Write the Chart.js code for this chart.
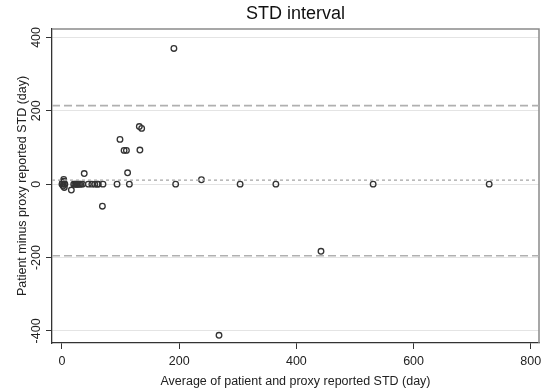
<!DOCTYPE html>
<html>
<head>
<meta charset="utf-8">
<script src="https://cdn.jsdelivr.net/npm/chart.js@4/dist/chart.umd.min.js"></script>
<style>
html,body{margin:0;padding:0;background:#fff;}
#wrap{width:548px;height:390px;}
</style>
</head>
<body>
<div id="wrap"><canvas id="c" width="548" height="390"></canvas></div>
<script>
// Data (x = average of patient & proxy STD, y = patient minus proxy)
const avgValues  = [0, 1, 2, 3, 4, 5, 3, 4, 16, 20, 22, 24, 25, 26, 28, 30, 32, 35, 45, 51, 56, 60, 62, 70, 38, 69, 94, 115, 112, 99, 106, 110, 133, 132, 136, 191, 194, 238, 268, 304, 365, 442, 531, 729];
const diffValues = [0, 5, -5, 13, -9, 0, 8, 0, -16, 0, 0, 0, 0, 0, 0, 0, 0, 0, 0, 0, 0, 0, 0, 0, 29, -60, 0, 0, 31, 122, 92, 92, 93, 157, 152, 370, 0, 12, -412, 0, 0, -183, 0, 0];
const meanDiff = 11;
const upperLimit = 214;
const lowerLimit = -195;
const xTicks = [0, 200, 400, 600, 800];
const yTicks = [-400, -200, 0, 200, 400];
const xRange = [-17, 814];
const yRange = [-433, 423];

const points = avgValues.map((x, i) => ({x: x, y: diffValues[i]}));
const hline = v => xRange.map(x => ({x: x, y: v}));

const FONT = "'Liberation Sans', Arial, Helvetica, sans-serif";

const framePlugin = {
  id: 'frame',
  beforeDatasetsDraw(chart) {
    const {ctx, chartArea: a} = chart;
    ctx.save();
    ctx.strokeStyle = '#8a8a8a';
    ctx.lineWidth = 1.5;
    ctx.beginPath();
    ctx.moveTo(a.left, a.top);
    ctx.lineTo(a.right, a.top);
    ctx.lineTo(a.right, a.bottom);
    ctx.stroke();
    ctx.restore();
  },
  afterDraw(chart) {
    const {ctx, chartArea: a} = chart;
    ctx.save();
    ctx.fillStyle = '#111';
    ctx.font = "18px " + FONT;
    ctx.textAlign = 'center';
    ctx.textBaseline = 'middle';
    ctx.fillText('STD interval', (a.left + a.right) / 2, 14);
    ctx.restore();
  }
};

new Chart(document.getElementById('c'), {
  type: 'scatter',
  data: {
    datasets: [
      {data: hline(upperLimit), type: 'line', showLine: true, borderColor: '#b0b0b0', borderWidth: 1.6, borderDash: [8, 4], pointRadius: 0, fill: false},
      {data: hline(lowerLimit), type: 'line', showLine: true, borderColor: '#b0b0b0', borderWidth: 1.6, borderDash: [8, 4], pointRadius: 0, fill: false},
      {data: hline(meanDiff), type: 'line', showLine: true, borderColor: '#a8a8a8', borderWidth: 1.3, borderDash: [3, 3], pointRadius: 0, fill: false},
      {data: points, pointRadius: 2.8, pointBorderWidth: 1.3, borderColor: '#333', backgroundColor: 'rgba(0,0,0,0)', pointHoverRadius: 2.8}
    ]
  },
  options: {
    responsive: false,
    animation: false,
    events: [],
    layout: {padding: {top: 29, right: 9, bottom: 0, left: 0}},
    plugins: {legend: {display: false}, tooltip: {enabled: false}, title: {display: false}},
    scales: {
      x: {
        type: 'linear',
        min: xRange[0], max: xRange[1],
        afterBuildTicks: s => { s.ticks = xTicks.map(v => ({value: v})); },
        afterFit: s => { s.height = 47; },
        grid: {display: true, drawOnChartArea: false, drawTicks: true, tickLength: 6, tickColor: '#333', tickWidth: 1},
        border: {display: true, color: '#333', width: 1.3},
        ticks: {color: '#222', font: {family: FONT, size: 12.5}, padding: 5, maxRotation: 0},
        title: {display: true, text: 'Average of patient and proxy reported STD (day)', color: '#222', font: {family: FONT, size: 12.5}, padding: {top: 0, bottom: 1}}
      },
      y: {
        type: 'linear',
        min: yRange[0], max: yRange[1],
        afterBuildTicks: s => { s.ticks = yTicks.map(v => ({value: v})); },
        afterFit: s => { s.width = 52; },
        grid: {display: true, drawOnChartArea: true, color: '#e4e4e4', lineWidth: 1, drawTicks: true, tickLength: 6, tickColor: '#333', tickWidth: 1},
        border: {display: true, color: '#333', width: 1.3},
        ticks: {color: '#222', font: {family: FONT, size: 12.5}, padding: -3, minRotation: 90, maxRotation: 90, crossAlign: 'center'},
        title: {display: true, text: 'Patient minus proxy reported STD (day)', color: '#222', font: {family: FONT, size: 12.5}, padding: {top: 15, bottom: 0}}
      }
    }
  },
  plugins: [framePlugin]
});
</script>
</body>
</html>
